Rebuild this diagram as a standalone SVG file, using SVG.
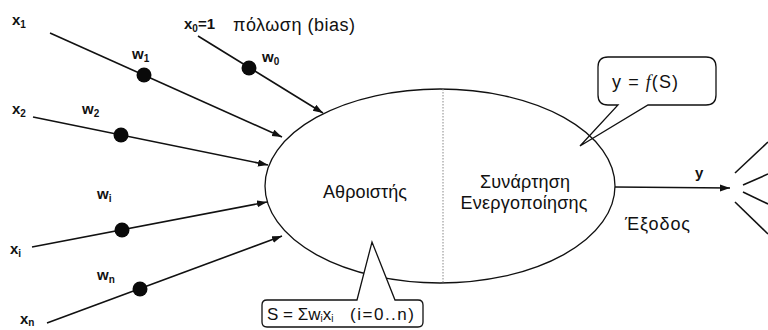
<svg xmlns="http://www.w3.org/2000/svg" width="768" height="330" viewBox="0 0 768 330">
<defs>
<style>
.t{font-family:"Liberation Sans",Arial,sans-serif;fill:#111;font-size:18px}
.s{font-family:"Liberation Sans",Arial,sans-serif;fill:#111;font-size:17px}
.lb{font-family:"Liberation Sans",Arial,sans-serif;fill:#111;font-size:15px;font-weight:bold}
.sub{font-size:10px}
.ln{stroke:#111;stroke-width:1.6;fill:none}
.dot{fill:#0a0a0a}
.bx{fill:#fff;stroke:#111;stroke-width:1.3}
</style>
<marker id="ah" markerUnits="userSpaceOnUse" markerWidth="11" markerHeight="8" refX="10" refY="3.5" orient="auto">
<path d="M0,0 L10,3.5 L0,7 z" fill="#111"/>
</marker>
</defs>
<rect width="768" height="330" fill="#fff"/>

<g id="neuron">
<ellipse cx="440" cy="186" rx="175" ry="97" fill="none" stroke="#111" stroke-width="1.3"/>
<line x1="443" y1="89" x2="443" y2="283" stroke="#888" stroke-width="1" stroke-dasharray="1.5,1.5"/>
<text class="t" x="365" y="198" text-anchor="middle" textLength="84">Αθροιστής</text>
<text class="t" x="525" y="188" text-anchor="middle" textLength="90">Συνάρτηση</text>
<text class="t" x="524" y="209" text-anchor="middle" textLength="127">Ενεργοποίησης</text>
</g>

<g id="connectors">
<line class="ln" x1="50" y1="33" x2="282" y2="137" marker-end="url(#ah)"/>
<line class="ln" x1="198" y1="36" x2="323" y2="113" marker-end="url(#ah)"/>
<line class="ln" x1="33" y1="117" x2="268" y2="165" marker-end="url(#ah)"/>
<line class="ln" x1="32" y1="247" x2="267" y2="202" marker-end="url(#ah)"/>
<line class="ln" x1="47" y1="323" x2="282" y2="236" marker-end="url(#ah)"/>
<line class="ln" x1="615" y1="187" x2="730" y2="188" marker-end="url(#ah)"/>
<g class="ln" stroke-width="1.4">
<line x1="735" y1="173" x2="768" y2="142"/>
<line x1="743" y1="185" x2="768" y2="174"/>
<line x1="743" y1="192" x2="768" y2="204"/>
<line x1="735" y1="202" x2="768" y2="234"/>
</g>
</g>

<g id="weights">
<circle class="dot" cx="144" cy="75" r="7.5"/>
<circle class="dot" cx="249" cy="68" r="7.5"/>
<circle class="dot" cx="121" cy="135" r="7.5"/>
<circle class="dot" cx="122" cy="230" r="7.5"/>
<circle class="dot" cx="140" cy="289" r="7.5"/>
</g>

<g id="input-labels">
<text class="lb" x="12" y="25">x<tspan class="sub" dy="3">1</tspan></text>
<text class="lb" x="132" y="59">w<tspan class="sub" dy="3">1</tspan></text>
<text class="lb" x="184" y="29">x<tspan class="sub" dy="3">0</tspan><tspan dy="-3">=1</tspan></text>
<text class="t" x="233" y="31" textLength="122">πόλωση (bias)</text>
<text class="lb" x="262" y="62">w<tspan class="sub" dy="3">0</tspan></text>
<text class="lb" x="12" y="114">x<tspan class="sub" dy="3">2</tspan></text>
<text class="lb" x="82" y="114">w<tspan class="sub" dy="3">2</tspan></text>
<text class="lb" x="97" y="199">w<tspan class="sub" dy="3">i</tspan></text>
<text class="lb" x="10" y="254">x<tspan class="sub" dy="3">i</tspan></text>
<text class="lb" x="97" y="280">w<tspan class="sub" dy="3">n</tspan></text>
<text class="lb" x="20" y="324">x<tspan class="sub" dy="2">n</tspan></text>
</g>

<g id="sum-callout">
<path class="bx" d="M267,300 L357,300 L372,242 L395,300 L418,300 Q423,300 423,305 L423,322 Q423,327 418,327 L267,327 Q262,327 262,322 L262,305 Q262,300 267,300 Z"/>
<text class="s" x="267" y="320">S = Σw<tspan class="sub" dy="2">i</tspan><tspan dy="-2">x</tspan><tspan class="sub" dy="2">i</tspan></text>
<text class="s" x="350" y="320" textLength="64">(i=0..n)</text>
</g>

<g id="activation-callout">
<path d="M608,57 L706,57 Q716,57 716,67 L716,95 Q716,105 706,105 L648,105 L580,146 L618,105 L608,105 Q598,105 598,95 L598,67 Q598,57 608,57 Z" fill="none" stroke="#111" stroke-width="1.3"/>
<text class="t" x="612" y="88" textLength="66">y = <tspan font-family="'Liberation Serif',serif" font-style="italic">f</tspan>(S)</text>
</g>

<g id="output">
<text class="lb" x="695" y="178">y</text>
<text class="t" x="625" y="230" textLength="65">Έξοδος</text>
</g>
</svg>
